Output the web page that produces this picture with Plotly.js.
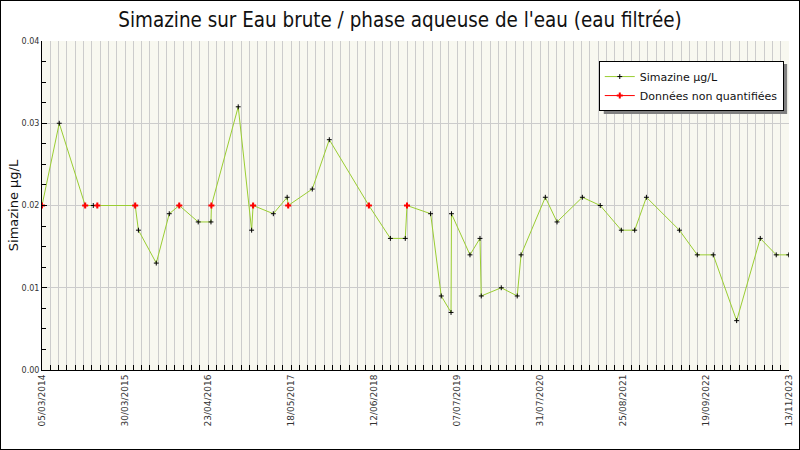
<!DOCTYPE html>
<html>
<head>
<meta charset="utf-8">
<script src="https://cdn.plot.ly/plotly-3.0.1.min.js"></script>
<style>
body { margin: 0; background: #fff; }
#frame { width: 798px; height: 448px; border: 1px solid #000; }
</style>
</head>
<body>
<div id="frame"><div id="plotter"></div></div>
<script>
// sample dates and values (µg/L), nonQuant = 1 when the sample is not quantified
let dates = [
    '2014-03-05', '2014-05-25', '2014-09-24', '2014-11-01', '2014-11-20',
    '2015-05-17', '2015-06-01', '2015-08-24', '2015-10-24', '2015-12-10',
    '2016-03-08', '2016-05-07', '2016-05-09', '2016-09-12', '2016-11-14',
    '2016-11-21', '2017-02-24', '2017-04-30', '2017-05-05', '2017-08-26',
    '2017-11-14', '2018-05-19', '2018-08-28', '2018-11-06', '2018-11-14',
    '2019-03-05', '2019-04-24', '2019-06-09', '2019-06-11', '2019-09-06',
    '2019-10-23', '2019-10-29', '2020-01-31', '2020-04-15', '2020-05-03',
    '2020-08-25', '2020-10-19', '2021-02-15', '2021-05-10', '2021-08-17',
    '2021-10-19', '2021-12-13', '2022-05-17', '2022-08-09', '2022-10-23',
    '2023-02-10', '2023-06-01', '2023-08-15', '2023-10-13'
];
let values = [
    0.02, 0.03, 0.02, 0.02, 0.02,
    0.02, 0.017, 0.013, 0.019, 0.02,
    0.018, 0.018, 0.02, 0.032, 0.017,
    0.02, 0.019, 0.021, 0.02, 0.022,
    0.028, 0.02, 0.016, 0.016, 0.02,
    0.019, 0.009, 0.007, 0.019, 0.014,
    0.016, 0.009, 0.010, 0.009, 0.014,
    0.021, 0.018, 0.021, 0.020, 0.017,
    0.017, 0.021, 0.017, 0.014, 0.014,
    0.006, 0.016, 0.014, 0.014
];
let nonQuant = [
    1, 0, 1, 0, 1,
    1, 0, 0, 0, 1,
    0, 0, 1, 0, 0,
    1, 0, 0, 1, 0,
    0, 1, 0, 0, 1,
    0, 0, 0, 0, 0,
    0, 0, 0, 0, 0,
    0, 0, 0, 0, 0,
    0, 0, 0, 0, 0,
    0, 0, 0, 0
];
let tickDates = [
    '2014-03-05', '2015-03-30', '2016-04-23', '2017-05-18', '2018-06-12',
    '2019-07-07', '2020-07-31', '2021-08-25', '2022-09-19', '2023-10-14'
];
let tickLabels = [
    '05/03/2014', '30/03/2015', '23/04/2016', '18/05/2017', '12/06/2018',
    '07/07/2019', '31/07/2020', '25/08/2021', '19/09/2022', '13/11/2023'
];

//red points, with gaps so no line is drawn between them (legend still shows a line)
let nqX = [], nqY = [];
for (let i = 0; i < dates.length; i++) {
    if (nonQuant[i]) {
        nqX.push(dates[i], null);
        nqY.push(values[i], null);
    }
}

let font = 'DejaVu Sans, Verdana, sans-serif';
let day = 86400000;

let data = [
    {
        x: dates,
        y: values,
        name: 'Simazine µg/L',
        type: 'scatter',
        mode: 'lines+markers',
        line: { color: '#9ACD32', width: 1 },
        marker: { symbol: 'cross-thin-open', size: 3.5, color: '#000', line: { color: '#000', width: 1 } },
    },
    {
        x: nqX,
        y: nqY,
        name: 'Données non quantifiées',
        type: 'scatter',
        mode: 'lines+markers',
        connectgaps: false,
        line: { color: '#FF0000', width: 1 },
        marker: { symbol: 'cross', size: 5, color: '#FF0000' },
    }
];

let layout = {
    width: 798,
    height: 448,
    margin: { l: 41, r: 10, t: 40, b: 79 },
    paper_bgcolor: '#FFFFFF',
    plot_bgcolor: '#F8F8F0',
    font: { family: font, color: '#222' },
    title: {
        text: "Simazine sur Eau brute / phase aqueuse de l'eau (eau filtrée)",
        font: { family: 'DejaVu Sans Condensed, DejaVu Sans, sans-serif', size: 20.4, color: '#111' },
        x: 0.5, xanchor: 'center',
        y: 1 - 19 / 448, yref: 'container', yanchor: 'middle',
    },
    xaxis: {
        type: 'date',
        range: ['2014-03-05', '2023-10-14'],
        tickmode: 'array',
        tickvals: tickDates,
        ticktext: tickLabels,
        tickangle: -90,
        tickfont: { size: 9, color: '#333' },
        ticks: 'inside', ticklen: 5, tickcolor: '#000',
        showgrid: true, gridcolor: '#CCCCCC', gridwidth: 1,
        showline: true, linecolor: '#000', linewidth: 1,
        zeroline: false,
        minor: {
            tick0: '2014-03-05',
            dtick: 39 * day,
            ticks: 'inside', ticklen: 5, tickcolor: '#000',
            showgrid: true, gridcolor: '#CCCCCC', gridwidth: 1,
        },
        fixedrange: true,
    },
    yaxis: {
        range: [0, 0.04],
        dtick: 0.01,
        tickformat: '.2f',
        tickfont: { size: 8, color: '#333' },
        ticks: 'inside', ticklen: 5, tickcolor: '#000',
        showgrid: true, gridcolor: '#CCCCCC', gridwidth: 1,
        showline: true, linecolor: '#000', linewidth: 1,
        zeroline: false,
        minor: { dtick: 0.0025, ticks: 'inside', ticklen: 4, tickcolor: '#000', showgrid: false },
        title: { text: 'Simazine µg/L', font: { size: 13, color: '#111' }, standoff: 0 },
        automargin: false,
        fixedrange: true,
    },
    showlegend: true,
    legend: {
        x: 0.993, xanchor: 'right',
        y: 0.939, yanchor: 'top',
        bgcolor: '#FFFFFF',
        bordercolor: '#000', borderwidth: 1,
        font: { size: 11, color: '#111' },
        tracegroupgap: 0,
        itemwidth: 30,
    },
    shapes: [
        { //legend shadow
            type: 'rect', xref: 'paper', yref: 'paper',
            x0: 0.752, x1: 0.9975, y0: 0.778, y1: 0.93,
            fillcolor: '#808080', line: { width: 0 }, layer: 'above',
        }
    ],
};

Plotly.newPlot('plotter', data, layout, { displayModeBar: false, staticPlot: true });
</script>
</body>
</html>
